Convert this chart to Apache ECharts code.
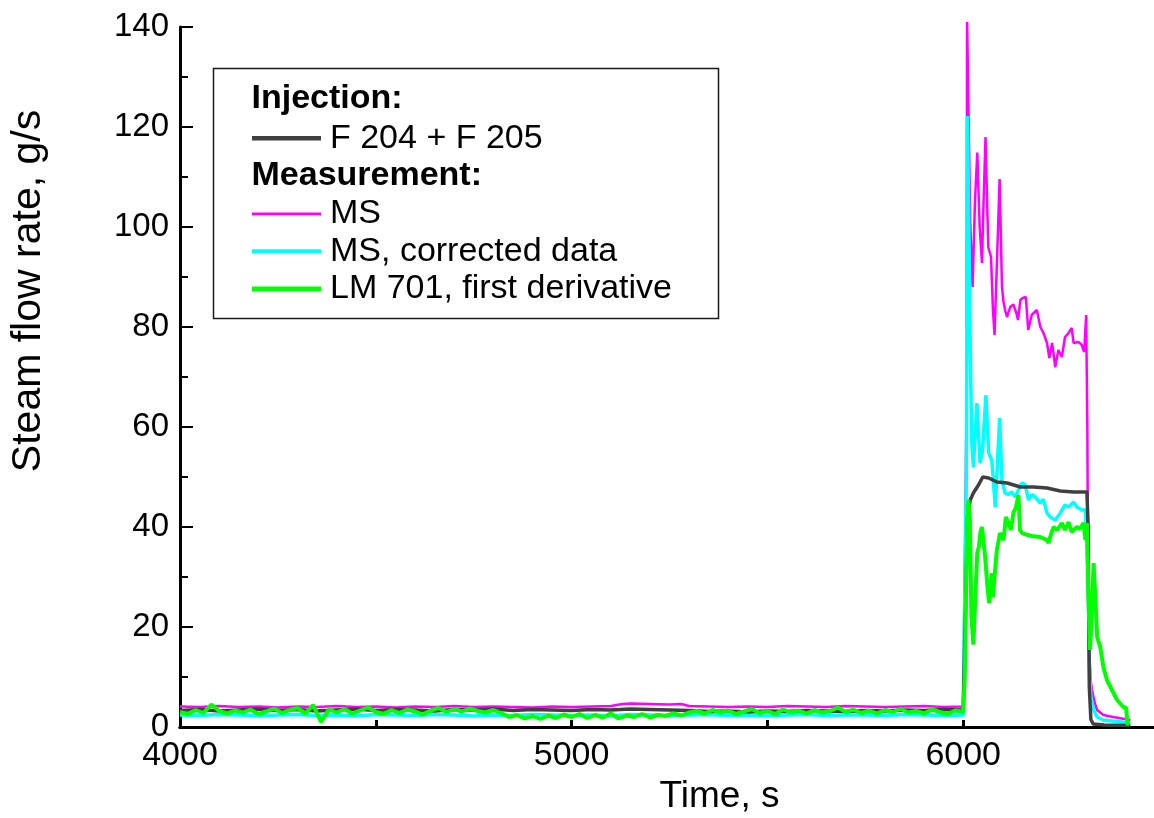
<!DOCTYPE html>
<html>
<head>
<meta charset="utf-8">
<script src="https://cdn.jsdelivr.net/npm/echarts@6/dist/echarts.min.js"></script>
<style>
html,body{margin:0;padding:0;background:#fff;}
#chart{width:1154px;height:818px;}
</style>
</head>
<body>
<div id="chart"></div>
<script>
// ---------- DATA ----------
const xTickLabels = ['4000', '5000', '6000'];
const yTickLabels = ['0', '20', '40', '60', '80', '100', '120', '140'];

// Injection: F 204 + F 205
const injTime = [4000,4050,4100,4150,4200,4250,4300,4350,4400,4450,4500,4550,4600,4650,4700,4750,4800,4850,4900,4950,5000,5050,5100,5150,5200,5250,5300,5350,5400,5450,5500,5550,5600,5650,5700,5750,5800,5850,5900,5950,6000,
  6003,6008,6011,6018,6026,6039,6050,6065,6086,6112,6146,6180,6214,6248,6282,6316,6319,6322,6326,6332,6360,6427];
const injRate = [3.3,3.5,3.2,3.4,3.6,3.3,3.5,3.2,3.4,3.6,3.3,3.5,3.4,3.2,3.5,3.4,3.6,3.3,3.5,3.4,3.3,3.5,3.4,3.6,3.5,3.4,3.3,3.1,3.2,3.0,3.2,3.1,3.3,3.2,3.1,3.3,3.2,3.4,3.3,3.5,3.4,
  3.4,30,42,45.4,46.8,48.4,50,49.8,49,48.8,48,48,47.8,47.2,47,47,40,8,1.5,0.6,0.4,0.3];

// Measurement: MS
const msTime = [4000,4050,4100,4150,4200,4250,4300,4350,4400,4450,4500,4550,4600,4650,4700,4750,4800,4850,4900,4950,5000,5050,5100,5130,5150,5200,5250,5280,5300,5350,5400,5450,5500,5550,5600,5650,5700,5750,5800,5850,5900,5950,6000,
  6003,6008,6010,6013,6018,6024,6030,6036,6042,6048,6052,6057,6064,6071,6076,6080,6087,6093,6099,6103,6107,6112,6120,6128,6135,6140,6146,6152,6160,6166,
  6175,6188,6197,6205,6214,6220,6227,6235,6243,6252,6260,6269,6277,6282,6294,6302,6309,6314,6317,6319,6322,6326,6329,6336,6342,6358,6383,6427];
const msRate = [4.1,4.0,4.2,4.0,4.1,3.9,4.1,4.0,4.2,4.0,4.1,3.9,4.1,4.0,4.2,4.0,4.1,4.0,3.9,4.1,4.0,4.1,4.2,4.6,4.7,4.6,4.5,4.6,4.2,4.1,4.0,4.1,4.0,4.2,4.1,4.0,4.2,4.1,4.0,4.1,4.2,4.0,4.1,
  4.1,60,141,141,100.8,88,105,114.9,100,92.8,105,118,96,94,83.4,78.4,95,109.6,88,85,83.4,82,84,84.5,83,81.4,85.4,85.8,86,79.4,
  82.4,83.4,80,78.8,76.8,73.8,76.8,72,75.4,74,78,78.8,79.8,76.8,77,76.5,75,82.4,60,30,15,9,7.4,4.8,3.4,2.4,2,1.4];

// Measurement: MS, corrected data
const mscTime = [4000,4050,4100,4150,4200,4250,4300,4350,4400,4450,4500,4550,4600,4650,4700,4750,4800,4850,4900,4950,5000,5050,5100,5150,5200,5250,5300,5350,5400,5450,5500,5550,5600,5650,5700,5750,5800,5850,5900,5950,6000,
  6003,6008,6011,6015,6019,6022,6026,6035,6043,6049,6058,6065,6073,6082,6093,6099,6107,6115,6124,6133,
  6141,6150,6158,6167,6175,6184,6197,6205,6214,6222,6235,6248,6260,6269,6282,6290,6303,6312,6316,6319,
  6322,6326,6333,6342,6358,6427];
const mscRate = [2.4,2.3,2.5,2.4,2.2,2.4,2.5,2.3,2.4,2.2,2.5,2.4,2.3,2.5,2.4,2.2,2.4,2.3,2.5,2.4,2.3,2.4,2.2,2.5,2.4,2.3,2.4,2.5,2.3,2.4,2.2,2.4,2.5,2.3,2.4,2.4,2.3,2.5,2.4,2.3,2.4,
  2.4,50,122.2,122.2,70,56.8,52,64.8,52.8,55,66.4,54.8,53.4,44,61.8,49.4,46.8,46.5,47,46,
  47.4,48.8,48.5,45.4,46.5,46,44.8,45.5,42.8,42,41.4,42.8,44.4,44,45,44,43.4,43.4,43,30,
  12,6,3.4,2,1.4,0.8];

// Measurement: LM 701, first derivative
const lmTime = [4000,4020,4040,4060,4080,4100,4120,4140,4160,4180,4200,4220,4240,4260,4280,4300,4320,4340,4360,4380,4400,4420,4440,4460,4480,4500,4520,4540,4560,4580,4600,4620,4640,4660,4680,4700,4720,4740,4760,4780,4800,4820,4840,4860,4880,4900,4920,4940,4960,4980,5000,5020,5040,5060,5080,5100,5120,5140,5160,5180,5200,5220,5240,5260,5280,5300,5320,5340,5360,5380,5400,5420,5440,5460,5480,5500,5520,5540,5560,5580,5600,5620,5640,5660,5680,5700,5720,5740,5760,5780,5800,5820,5840,5860,5880,5900,5920,5940,5960,5980,6000,
  6004,6009,6013,6017,6021,6026,6031,6036,6040,6044,6048,6052,6056,6061,6066,6070,6073,6076,6081,6086,
  6094,6103,6109,6115,6122,6128,6135,6141,6145,6150,6160,6175,6197,6214,6218,6224,6231,6240,6252,6260,
  6269,6277,6290,6298,6307,6312,6316,6320,6324,6328,6333,6338,6342,6350,6358,6367,6380,6393,6409,6416,6420];
const lmRate = [3.0,2.6,3.4,2.8,4.5,3.2,2.7,3.3,2.9,3.5,2.6,3.1,3.7,2.8,3.4,3.8,2.7,4.4,1.0,3.5,2.9,3.6,2.7,3.3,3.9,3.0,2.6,3.4,2.8,3.5,3.1,2.5,3.3,3.8,3.0,3.6,3.1,3.7,3.2,2.9,3.4,2.8,2.0,2.4,1.7,2.2,1.6,2.3,1.8,2.5,2.0,2.6,1.8,2.4,1.9,2.7,1.7,2.3,2.0,2.6,1.9,2.4,2.2,2.7,2.3,2.9,3.2,2.7,3.4,2.9,3.3,2.6,3.1,3.6,2.8,3.2,2.6,3.5,2.9,3.3,2.7,3.4,2.9,3.2,3.9,3.0,3.5,2.8,3.3,2.7,3.4,3.0,3.6,2.9,3.2,2.7,3.5,3.0,2.6,3.3,3.0,
  10,35,45.4,42,22,16.5,26,35,36,39,40,37,34,29,24.8,27,30.8,26,31,35.4,
  38.8,37.4,42,40.8,39.4,42.8,44,46.4,39.4,38.8,38.5,38.2,38,37.4,36.8,38.5,40,39.4,40.8,39.4,
  41,39,40,39.6,40.8,37.4,40.8,25.4,15.4,22,32.8,25,18,16,12,9.4,7.4,5.4,4,3.8,0.3];

const seriesNames = ['F 204 + F 205', 'MS', 'MS, corrected data', 'LM 701, first derivative'];
const seriesColors = ['#404040', '#ff00ff', '#00ffff', '#00ff00'];

// ---------- BUILD ----------
function zip(t, v) {
  const n = Math.min(t.length, v.length);
  const out = [];
  for (let i = 0; i < n; i++) out.push([t[i], v[i]]);
  return out;
}
const FONT = '"Liberation Sans", Arial, Helvetica, sans-serif';
const X_MIN = 4000, X_MAX = 6500;
const chart = echarts.init(document.getElementById('chart'), null, {renderer: 'canvas'});

function lineSeries(name, color, width, data, z, clip) {
  return {
    name: name, type: 'line', data: data, showSymbol: false, symbol: 'none',
    lineStyle: {color: color, width: width}, itemStyle: {color: color},
    z: z, clip: clip, animation: false
  };
}

const option = {
  animation: false,
  backgroundColor: '#ffffff',
  grid: {left: 180, top: 27, width: 979, height: 700, containLabel: false, outerBoundsMode: 'none'},
  xAxis: [{
    type: 'value', min: X_MIN, max: X_MAX, interval: 1000,
    name: 'Time, s', nameLocation: 'middle', nameGap: 51,
    nameTextStyle: {fontSize: 37, fontFamily: FONT, color: '#000', padding: [0, 0, 0, 100]},
    axisLine: {show: true, onZero: false, lineStyle: {color: '#000', width: 3}},
    axisTick: {show: true, inside: true, length: 7, lineStyle: {color: '#000', width: 3}},
    minorTick: {show: true, splitNumber: 2, length: 7, lineStyle: {color: '#000', width: 3}},
    axisLabel: {fontSize: 34, fontFamily: FONT, color: '#000', margin: 12,
      showMaxLabel: false,
      formatter: function (v) { const s = String(v); return xTickLabels.indexOf(s) >= 0 ? s : ''; }},
    splitLine: {show: false}
  }, {
    type: 'value', position: 'top', min: X_MIN, max: X_MAX,
    axisLine: {show: true, lineStyle: {color: '#000', width: 3}},
    axisTick: {show: false}, axisLabel: {show: false}, splitLine: {show: false}
  }],
  yAxis: {
    type: 'value', min: 0, max: 140, interval: 20,
    name: 'Steam flow rate, g/s', nameLocation: 'middle', nameGap: 131,
    nameTextStyle: {fontSize: 41, fontFamily: FONT, color: '#000', padding: [0, 0, 0, 172]},
    axisLine: {show: true, onZero: false, lineStyle: {color: '#000', width: 3}},
    axisTick: {show: true, inside: true, length: 13, lineStyle: {color: '#000', width: 2}},
    minorTick: {show: true, splitNumber: 2, length: 8, lineStyle: {color: '#000', width: 2}},
    axisLabel: {fontSize: 33, fontFamily: FONT, color: '#000', margin: 11,
      formatter: function (v) { const s = String(v); return yTickLabels.indexOf(s) >= 0 ? s : ''; }},
    splitLine: {show: false}
  },
  legend: [{
    data: [{name: seriesNames[0], icon: 'path://M0,0h69v4.5h-69z'}],
    left: 252, top: 121.3, padding: 0, itemWidth: 69, itemHeight: 5, selectedMode: false,
    textStyle: {fontSize: 34, fontFamily: FONT, color: '#000', lineHeight: 34, padding: [0, 0, 0, 4]}
  }, {
    data: [
      {name: seriesNames[1], icon: 'path://M0,0h69v2.7h-69z'},
      {name: seriesNames[2], icon: 'path://M0,0h69v4h-69z'},
      {name: seriesNames[3], icon: 'path://M0,0h69v4.7h-69z'}
    ],
    orient: 'vertical', left: 252, top: 196.8, padding: 0, itemGap: 3.5,
    itemWidth: 69, itemHeight: 5, selectedMode: false,
    textStyle: {fontSize: 34, fontFamily: FONT, color: '#000', lineHeight: 34, padding: [0, 0, 0, 4]}
  }],
  graphic: [
    {type: 'rect', shape: {x: 213.5, y: 68.5, width: 505, height: 250}, z: 100,
      style: {fill: 'none', stroke: '#1a1a1a', lineWidth: 1.5}},
    {type: 'text', x: 251.5, y: 99, z: 101,
      style: {text: 'Injection:', font: 'bold 34px ' + FONT, fill: '#000', textVerticalAlign: 'middle', verticalAlign: 'middle'}},
    {type: 'text', x: 251.5, y: 175.5, z: 101,
      style: {text: 'Measurement:', font: 'bold 34px ' + FONT, fill: '#000', textVerticalAlign: 'middle', verticalAlign: 'middle'}}
  ],
  series: [
    lineSeries(seriesNames[1], seriesColors[1], 2.5, zip(msTime, msRate), 2, false),
    lineSeries(seriesNames[2], seriesColors[2], 3.5, zip(mscTime, mscRate), 3, true),
    lineSeries(seriesNames[0], seriesColors[0], 3.5, zip(injTime, injRate), 4, true),
    lineSeries(seriesNames[3], seriesColors[3], 4, zip(lmTime, lmRate), 5, true)
  ]
};
chart.setOption(option);
</script>
</body>
</html>
